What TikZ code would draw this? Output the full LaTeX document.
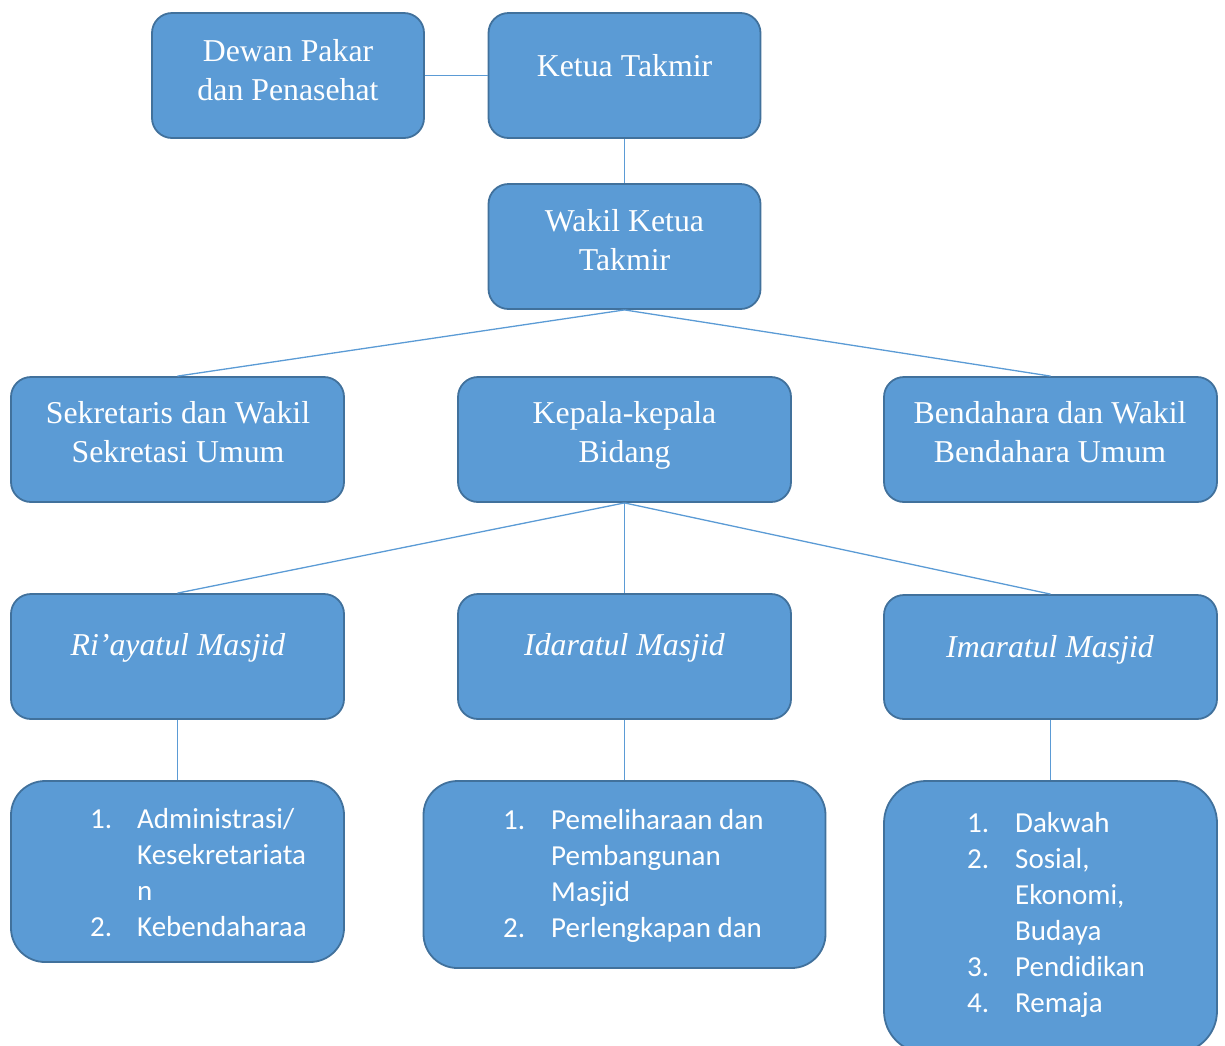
\documentclass[tikz,border=0pt]{standalone}
\usepackage{fontspec}
\setmainfont{Liberation Serif}
\newfontfamily\calib{Carlito}
\definecolor{boxfill}{HTML}{5B9BD5}
\definecolor{boxline}{HTML}{41719C}
\definecolor{conn}{HTML}{5B9BD5}
\begin{document}
\begin{tikzpicture}[x=1pt,y=-1pt,
  box/.style={draw=boxline, fill=boxfill, line width=1.8pt, rounded corners=20pt, inner sep=0pt},
  bigbox/.style={box, rounded corners=34pt},
  serif/.style={text=white, inner sep=0pt, anchor=base, font=\fontsize{31.8}{39}\selectfont},
  serifit/.style={serif, font=\fontsize{31.8}{39}\selectfont\itshape},
  num/.style={text=white, inner sep=0pt, anchor=base west, font=\calib\fontsize{29}{36}\selectfont},
  link/.style={draw=conn, line width=1.3pt}]
\useasboundingbox (0,0) rectangle (1225,1045);
\clip (0,0) rectangle (1225,1045);

% boxes
\node[box, minimum width=272pt, minimum height=125pt] (dewan) at (288,75.5) {};
\node[box, minimum width=272pt, minimum height=125pt] (ketua) at (624.5,75.5) {};
\node[box, minimum width=272pt, minimum height=125pt] (wakil) at (624.5,246.5) {};
\node[box, minimum width=333pt, minimum height=125pt] (sek) at (177.5,439.5) {};
\node[box, minimum width=333pt, minimum height=125pt] (kep) at (624.5,439.5) {};
\node[box, minimum width=333pt, minimum height=125pt] (bend) at (1050.5,439.5) {};
\node[box, minimum width=333pt, minimum height=125pt] (ri) at (177.5,656.5) {};
\node[box, minimum width=333pt, minimum height=125pt] (ida) at (624.5,656.5) {};
\node[box, minimum width=333pt, minimum height=124pt] (ima) at (1050.5,657) {};
\node[bigbox, minimum width=333pt, minimum height=181pt] (bl) at (177.5,871.5) {};
\node[bigbox, minimum width=402pt, minimum height=187pt] (bm) at (624.5,874.5) {};
\node[bigbox, rounded corners=42pt, minimum width=333pt, minimum height=272pt] (br) at (1050.5,917) {};

% connectors
\draw[link] (dewan.east) -- (ketua.west);
\draw[link] (ketua.south) -- (wakil.north);
\draw[link] (wakil.south) -- (sek.north);
\draw[link] (wakil.south) -- (bend.north);
\draw[link] (kep.south) -- (ri.north);
\draw[link] (kep.south) -- (ida.north);
\draw[link] (kep.south) -- (ima.north);
\draw[link] (ri.south) -- (bl.north);
\draw[link] (ida.south) -- (bm.north);
\draw[link] (ima.south) -- (br.north);

% texts
\node[serif] (dewanA) at (288,61) {Dewan Pakar};
\node[serif] (dewanB) at (288,100) {dan Penasehat};
\node[serif] (ketuaA) at (624.5,76) {Ketua Takmir};
\node[serif] (wakilA) at (624.5,231) {Wakil Ketua};
\node[serif] (wakilB) at (624.5,270) {Takmir};
\node[serif] (sekA) at (178,423) {Sekretaris dan Wakil};
\node[serif] (sekB) at (178,462) {Sekretasi Umum};
\node[serif] (kepA) at (624.5,423) {Kepala-kepala};
\node[serif] (kepB) at (624.5,462) {Bidang};
\node[serif] (bendA) at (1050,423) {Bendahara dan Wakil};
\node[serif] (bendB) at (1050,462) {Bendahara Umum};
\node[serifit] (riA) at (178,655) {Ri’ayatul Masjid};
\node[serifit] (idaA) at (624.5,655) {Idaratul Masjid};
\node[serifit] (imaA) at (1050,657) {Imaratul Masjid};

% left list
\node[num] (bl1) at (90,828) {1.};
\node[num] (bl1a) at (137,828) {Administrasi/};
\node[num] (bl1b) at (137,864) {Kesekretariata};
\node[num] (bl1c) at (137,900) {n};
\node[num] (bl2) at (90,936) {2.};
\node[num] (bl2a) at (137,936) {Kebendaharaa};

% middle list
\node[num] (bm1) at (503,829) {1.};
\node[num] (bm1a) at (551,829) {Pemeliharaan dan};
\node[num] (bm1b) at (551,865) {Pembangunan};
\node[num] (bm1c) at (551,901) {Masjid};
\node[num] (bm2) at (503,937) {2.};
\node[num] (bm2a) at (551,937) {Perlengkapan dan};

% right list
\node[num] (br1) at (967,832) {1.};
\node[num] (br1a) at (1015,832) {Dakwah};
\node[num] (br2) at (967,868) {2.};
\node[num] (br2a) at (1015,868) {Sosial,};
\node[num] (br2b) at (1015,904) {Ekonomi,};
\node[num] (br2c) at (1015,940) {Budaya};
\node[num] (br3) at (967,976) {3.};
\node[num] (br3a) at (1015,976) {Pendidikan};
\node[num] (br4) at (967,1012) {4.};
\node[num] (br4a) at (1015,1012) {Remaja};
\end{tikzpicture}
\end{document}
